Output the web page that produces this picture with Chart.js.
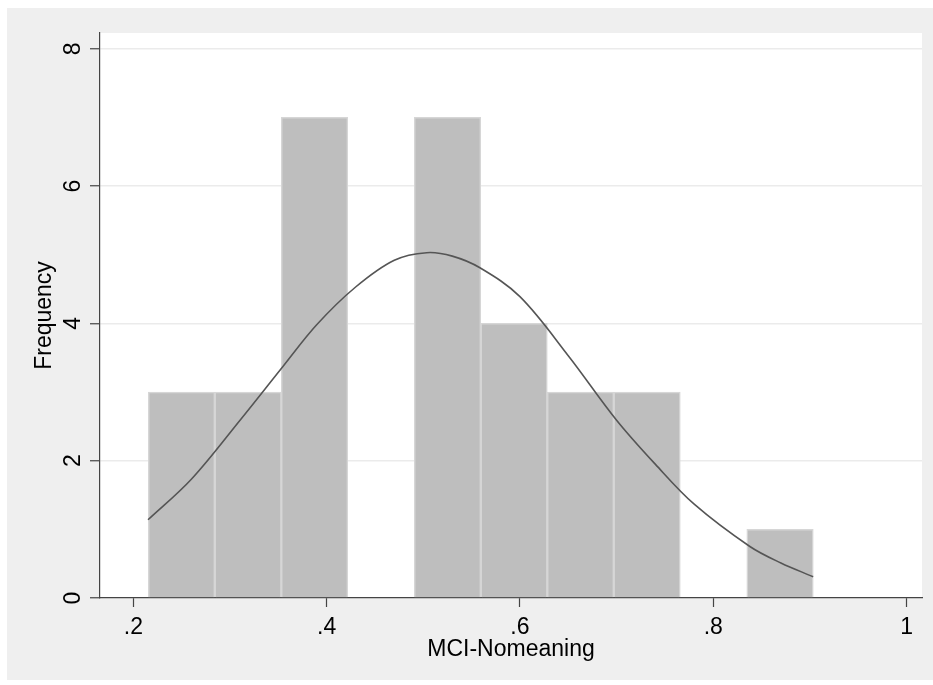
<!DOCTYPE html>
<html>
<head>
<meta charset="utf-8">
<script src="https://cdn.jsdelivr.net/npm/chart.js@4/dist/chart.umd.min.js"></script>
<style>
  html, body { margin: 0; padding: 0; background: #ffffff; }
  #wrap { width: 933px; height: 685px; }
</style>
</head>
<body>
<div id="wrap"><canvas id="c" width="933" height="685"></canvas></div>
<script>
// Histogram bins (midpoints) and frequencies
const binCenters = [0.2499, 0.3187, 0.3875, 0.4563, 0.5251, 0.5939, 0.6627, 0.7315, 0.8003, 0.8691];
const frequencies = [3, 3, 7, 0, 7, 4, 3, 3, 0, 1];

// Normal density overlay
const curveX = [0.2152, 0.2600, 0.3104, 0.3552, 0.3897, 0.4300, 0.4700, 0.5035, 0.5300, 0.5586, 0.6000, 0.6500, 0.7000, 0.7400, 0.7800, 0.8379, 0.8700, 0.9034];
const curveY = [1.14, 1.73, 2.59, 3.38, 3.98, 4.53, 4.92, 5.03, 4.98, 4.81, 4.39, 3.53, 2.59, 1.95, 1.37, 0.75, 0.51, 0.31];

// Axis ticks
const xTicks = [0.2, 0.4, 0.6, 0.8, 1];
const yTicks = [0, 2, 4, 6, 8];

const xTitle = 'MCI-Nomeaning';
const yTitle = 'Frequency';

const FONT = 'Arial, "Liberation Sans", sans-serif';

const bgPlugin = {
  id: 'bg',
  beforeDraw(chart) {
    const { ctx, chartArea } = chart;
    ctx.save();
    ctx.fillStyle = '#ffffff';
    ctx.fillRect(0, 0, chart.width, chart.height);
    ctx.fillStyle = '#efefef';
    ctx.fillRect(7, 8, chart.width - 7, 672);
    ctx.fillStyle = '#ffffff';
    ctx.fillRect(chartArea.left, chartArea.top, chartArea.right - chartArea.left, chartArea.bottom - chartArea.top);
    ctx.restore();
  }
};

new Chart(document.getElementById('c'), {
  data: {
    datasets: [
      {
        type: 'line',
        data: curveX.map((x, i) => ({ x: x, y: curveY[i] })),
        borderColor: '#555555',
        borderWidth: 1.6,
        pointRadius: 0,
        tension: 0.35,
        fill: false,
        order: 0
      },
      {
        type: 'bar',
        data: binCenters.map((x, i) => ({ x: x, y: frequencies[i] })),
        backgroundColor: '#bebebe',
        borderColor: '#d6d6d6',
        borderWidth: 1.5,
        barPercentage: 1.0,
        categoryPercentage: 1.0,
        order: 1
      }
    ]
  },
  options: {
    responsive: false,
    animation: false,
    devicePixelRatio: 1,
    layout: { padding: { left: 0, top: 33, right: 11, bottom: 0 } },
    plugins: { legend: { display: false }, tooltip: { enabled: false } },
    scales: {
      x: {
        type: 'linear',
        offset: false,
        min: 0.1655,
        max: 1.016,
        afterBuildTicks(scale) { scale.ticks = xTicks.map(v => ({ value: v })); },
        afterFit(scale) { scale.height = 87; },
        grid: { offset: false, drawOnChartArea: false, drawTicks: true, tickLength: 9, tickColor: '#444444', tickWidth: 1.2 },
        border: { display: true, color: '#444444', width: 1.2 },
        ticks: {
          color: '#000000',
          font: { family: FONT, size: 23 },
          padding: 7,
          maxRotation: 0,
          autoSkip: false,
          callback: (v) => String(v).replace(/^0\./, '.')
        },
        title: {
          display: true,
          text: xTitle,
          color: '#000000',
          font: { family: FONT, size: 23 },
          padding: { top: 0, bottom: 22 }
        }
      },
      y: {
        type: 'linear',
        min: 0,
        max: 8.23,
        afterBuildTicks(scale) { scale.ticks = yTicks.map(v => ({ value: v })); },
        afterFit(scale) { scale.width = 100; },
        grid: {
          drawOnChartArea: true,
          color: (c) => (c.tick && c.tick.value === 0 ? 'rgba(0,0,0,0)' : '#ebebeb'),
          lineWidth: 1.5,
          drawTicks: true,
          tickLength: 10,
          tickColor: '#444444',
          tickWidth: 1.2
        },
        border: { display: true, color: '#444444', width: 1.2 },
        ticks: {
          color: '#000000',
          font: { family: FONT, size: 23 },
          padding: 10,
          minRotation: 90,
          maxRotation: 90,
          crossAlign: 'center',
          autoSkip: false,
          callback: (v) => String(v)
        },
        title: {
          display: true,
          text: yTitle,
          color: '#000000',
          font: { family: FONT, size: 23 },
          padding: { top: 31, bottom: 0 }
        }
      }
    }
  },
  plugins: [bgPlugin]
});
</script>
</body>
</html>
